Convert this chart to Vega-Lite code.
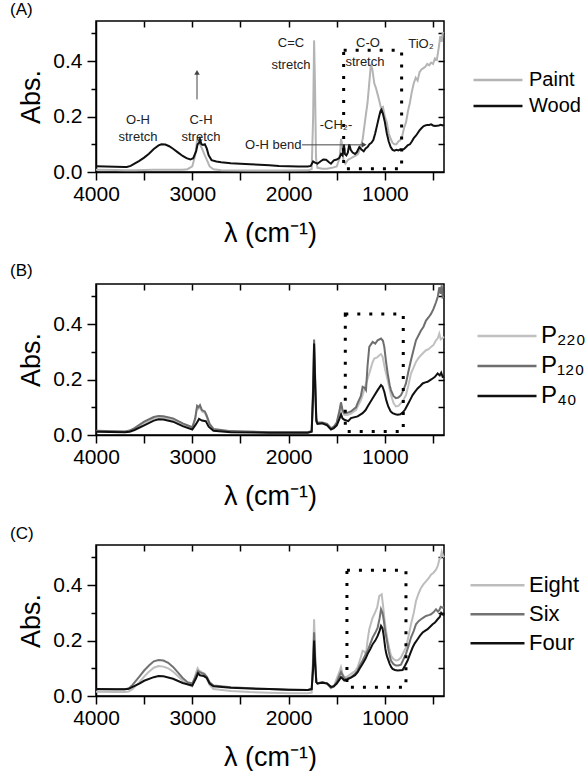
{
"$schema": "https://vega.github.io/schema/vega-lite/v6.json",
"padding": {"left": 9, "top": 0, "right": 0, "bottom": 0},
"resolve": {"scale": {"color": "independent"}, "legend": {"color": "independent"}},
"config": {
 "font": "Liberation Sans",
 "view": {"stroke": "#000", "strokeWidth": 1.5},
 "axis": {"domainColor": "#000", "tickColor": "#000", "labelColor": "#000", "titleColor": "#000", "grid": false, "labelFont": "Liberation Sans", "titleFont": "Liberation Sans", "labelFontSize": 21, "titleFontSize": 27, "titleFontWeight": "normal", "tickWidth": 1.5, "domainWidth": 1.5},
 "legend": {"labelFont": "Liberation Sans", "labelColor": "#000", "symbolType": "stroke", "symbolStrokeWidth": 2.5, "rowPadding": 0},
 "title": {"anchor": "start", "frame": "group", "fontSize": 17, "fontWeight": "normal", "font": "Liberation Sans", "color": "#000", "offset": 1, "dx": -86}
},
"datasets": {
 "a": [
  {"s":"Paint","x":4000,"y":0.008},{"s":"Paint","x":3800,"y":0.007},{"s":"Paint","x":3700,"y":0.006},{"s":"Paint","x":3600,"y":0.006},{"s":"Paint","x":3500,"y":0.007},{"s":"Paint","x":3400,"y":0.008},{"s":"Paint","x":3300,"y":0.008},{"s":"Paint","x":3200,"y":0.008},{"s":"Paint","x":3100,"y":0.008},{"s":"Paint","x":3050,"y":0.01},{"s":"Paint","x":3000,"y":0.02},{"s":"Paint","x":2970,"y":0.06},{"s":"Paint","x":2950,"y":0.115},{"s":"Paint","x":2935,"y":0.12},{"s":"Paint","x":2920,"y":0.1},{"s":"Paint","x":2900,"y":0.085},{"s":"Paint","x":2870,"y":0.06},{"s":"Paint","x":2850,"y":0.045},{"s":"Paint","x":2820,"y":0.02},{"s":"Paint","x":2780,"y":0.01},{"s":"Paint","x":2700,"y":0.006},{"s":"Paint","x":2400,"y":0.005},{"s":"Paint","x":2100,"y":0.005},{"s":"Paint","x":1800,"y":0.006},{"s":"Paint","x":1760,"y":0.01},{"s":"Paint","x":1745,"y":0.2},{"s":"Paint","x":1735,"y":0.475},{"s":"Paint","x":1725,"y":0.3},{"s":"Paint","x":1715,"y":0.05},{"s":"Paint","x":1700,"y":0.015},{"s":"Paint","x":1650,"y":0.012},{"s":"Paint","x":1600,"y":0.012},{"s":"Paint","x":1550,"y":0.015},{"s":"Paint","x":1500,"y":0.02},{"s":"Paint","x":1470,"y":0.05},{"s":"Paint","x":1455,"y":0.12},{"s":"Paint","x":1445,"y":0.1},{"s":"Paint","x":1430,"y":0.04},{"s":"Paint","x":1410,"y":0.03},{"s":"Paint","x":1380,"y":0.045},{"s":"Paint","x":1350,"y":0.05},{"s":"Paint","x":1300,"y":0.06},{"s":"Paint","x":1280,"y":0.065},{"s":"Paint","x":1250,"y":0.09},{"s":"Paint","x":1230,"y":0.12},{"s":"Paint","x":1200,"y":0.2},{"s":"Paint","x":1180,"y":0.25},{"s":"Paint","x":1160,"y":0.33},{"s":"Paint","x":1145,"y":0.39},{"s":"Paint","x":1130,"y":0.37},{"s":"Paint","x":1110,"y":0.32},{"s":"Paint","x":1090,"y":0.3},{"s":"Paint","x":1060,"y":0.26},{"s":"Paint","x":1040,"y":0.23},{"s":"Paint","x":1020,"y":0.235},{"s":"Paint","x":1000,"y":0.2},{"s":"Paint","x":980,"y":0.18},{"s":"Paint","x":960,"y":0.14},{"s":"Paint","x":940,"y":0.12},{"s":"Paint","x":920,"y":0.105},{"s":"Paint","x":900,"y":0.1},{"s":"Paint","x":880,"y":0.1},{"s":"Paint","x":860,"y":0.11},{"s":"Paint","x":840,"y":0.115},{"s":"Paint","x":820,"y":0.13},{"s":"Paint","x":800,"y":0.16},{"s":"Paint","x":780,"y":0.18},{"s":"Paint","x":760,"y":0.22},{"s":"Paint","x":740,"y":0.25},{"s":"Paint","x":720,"y":0.29},{"s":"Paint","x":700,"y":0.32},{"s":"Paint","x":680,"y":0.34},{"s":"Paint","x":660,"y":0.33},{"s":"Paint","x":640,"y":0.36},{"s":"Paint","x":620,"y":0.37},{"s":"Paint","x":600,"y":0.375},{"s":"Paint","x":580,"y":0.38},{"s":"Paint","x":560,"y":0.39},{"s":"Paint","x":540,"y":0.385},{"s":"Paint","x":520,"y":0.395},{"s":"Paint","x":500,"y":0.39},{"s":"Paint","x":480,"y":0.41},{"s":"Paint","x":460,"y":0.405},{"s":"Paint","x":440,"y":0.45},{"s":"Paint","x":425,"y":0.49},{"s":"Paint","x":410,"y":0.47},{"s":"Paint","x":400,"y":0.5},{"s":"Paint","x":390,"y":0.505},
  {"s":"Wood","x":4000,"y":0.021},{"s":"Wood","x":3900,"y":0.02},{"s":"Wood","x":3800,"y":0.019},{"s":"Wood","x":3700,"y":0.018},{"s":"Wood","x":3680,"y":0.018},{"s":"Wood","x":3640,"y":0.022},{"s":"Wood","x":3600,"y":0.03},{"s":"Wood","x":3550,"y":0.04},{"s":"Wood","x":3500,"y":0.052},{"s":"Wood","x":3450,"y":0.066},{"s":"Wood","x":3400,"y":0.083},{"s":"Wood","x":3350,"y":0.096},{"s":"Wood","x":3320,"y":0.1},{"s":"Wood","x":3280,"y":0.099},{"s":"Wood","x":3240,"y":0.093},{"s":"Wood","x":3200,"y":0.084},{"s":"Wood","x":3150,"y":0.071},{"s":"Wood","x":3100,"y":0.058},{"s":"Wood","x":3060,"y":0.05},{"s":"Wood","x":3020,"y":0.045},{"s":"Wood","x":2990,"y":0.05},{"s":"Wood","x":2960,"y":0.075},{"s":"Wood","x":2945,"y":0.1},{"s":"Wood","x":2930,"y":0.105},{"s":"Wood","x":2920,"y":0.118},{"s":"Wood","x":2905,"y":0.1},{"s":"Wood","x":2890,"y":0.098},{"s":"Wood","x":2870,"y":0.1},{"s":"Wood","x":2850,"y":0.085},{"s":"Wood","x":2830,"y":0.06},{"s":"Wood","x":2800,"y":0.043},{"s":"Wood","x":2750,"y":0.038},{"s":"Wood","x":2700,"y":0.035},{"s":"Wood","x":2600,"y":0.032},{"s":"Wood","x":2500,"y":0.03},{"s":"Wood","x":2400,"y":0.028},{"s":"Wood","x":2300,"y":0.026},{"s":"Wood","x":2200,"y":0.024},{"s":"Wood","x":2100,"y":0.022},{"s":"Wood","x":2000,"y":0.021},{"s":"Wood","x":1900,"y":0.02},{"s":"Wood","x":1800,"y":0.02},{"s":"Wood","x":1770,"y":0.022},{"s":"Wood","x":1745,"y":0.038},{"s":"Wood","x":1730,"y":0.035},{"s":"Wood","x":1700,"y":0.03},{"s":"Wood","x":1670,"y":0.038},{"s":"Wood","x":1640,"y":0.045},{"s":"Wood","x":1610,"y":0.044},{"s":"Wood","x":1580,"y":0.035},{"s":"Wood","x":1560,"y":0.03},{"s":"Wood","x":1530,"y":0.042},{"s":"Wood","x":1500,"y":0.045},{"s":"Wood","x":1475,"y":0.05},{"s":"Wood","x":1455,"y":0.065},{"s":"Wood","x":1440,"y":0.06},{"s":"Wood","x":1425,"y":0.1},{"s":"Wood","x":1415,"y":0.065},{"s":"Wood","x":1400,"y":0.06},{"s":"Wood","x":1385,"y":0.07},{"s":"Wood","x":1370,"y":0.1},{"s":"Wood","x":1355,"y":0.08},{"s":"Wood","x":1335,"y":0.07},{"s":"Wood","x":1310,"y":0.065},{"s":"Wood","x":1290,"y":0.072},{"s":"Wood","x":1265,"y":0.09},{"s":"Wood","x":1240,"y":0.08},{"s":"Wood","x":1220,"y":0.075},{"s":"Wood","x":1200,"y":0.085},{"s":"Wood","x":1180,"y":0.09},{"s":"Wood","x":1160,"y":0.1},{"s":"Wood","x":1140,"y":0.105},{"s":"Wood","x":1120,"y":0.115},{"s":"Wood","x":1100,"y":0.14},{"s":"Wood","x":1080,"y":0.17},{"s":"Wood","x":1060,"y":0.2},{"s":"Wood","x":1045,"y":0.22},{"s":"Wood","x":1035,"y":0.225},{"s":"Wood","x":1020,"y":0.21},{"s":"Wood","x":1000,"y":0.18},{"s":"Wood","x":980,"y":0.14},{"s":"Wood","x":960,"y":0.11},{"s":"Wood","x":940,"y":0.09},{"s":"Wood","x":920,"y":0.08},{"s":"Wood","x":900,"y":0.077},{"s":"Wood","x":880,"y":0.08},{"s":"Wood","x":860,"y":0.078},{"s":"Wood","x":840,"y":0.082},{"s":"Wood","x":820,"y":0.08},{"s":"Wood","x":800,"y":0.083},{"s":"Wood","x":780,"y":0.09},{"s":"Wood","x":760,"y":0.097},{"s":"Wood","x":740,"y":0.1},{"s":"Wood","x":720,"y":0.11},{"s":"Wood","x":700,"y":0.122},{"s":"Wood","x":680,"y":0.13},{"s":"Wood","x":660,"y":0.14},{"s":"Wood","x":640,"y":0.15},{"s":"Wood","x":620,"y":0.158},{"s":"Wood","x":600,"y":0.165},{"s":"Wood","x":580,"y":0.168},{"s":"Wood","x":560,"y":0.17},{"s":"Wood","x":540,"y":0.17},{"s":"Wood","x":520,"y":0.172},{"s":"Wood","x":500,"y":0.168},{"s":"Wood","x":480,"y":0.166},{"s":"Wood","x":460,"y":0.167},{"s":"Wood","x":440,"y":0.168},{"s":"Wood","x":420,"y":0.17},{"s":"Wood","x":400,"y":0.168},{"s":"Wood","x":386,"y":0.17}
 ],
 "b": [
  {"s":"P₂₂₀","x":4000,"y":0.014},{"s":"P₂₂₀","x":3700,"y":0.012},{"s":"P₂₂₀","x":3650,"y":0.015},{"s":"P₂₂₀","x":3600,"y":0.022},{"s":"P₂₂₀","x":3500,"y":0.043},{"s":"P₂₂₀","x":3400,"y":0.06},{"s":"P₂₂₀","x":3350,"y":0.064},{"s":"P₂₂₀","x":3300,"y":0.063},{"s":"P₂₂₀","x":3200,"y":0.055},{"s":"P₂₂₀","x":3100,"y":0.038},{"s":"P₂₂₀","x":3000,"y":0.025},{"s":"P₂₂₀","x":2970,"y":0.055},{"s":"P₂₂₀","x":2950,"y":0.1},{"s":"P₂₂₀","x":2935,"y":0.095},{"s":"P₂₂₀","x":2920,"y":0.102},{"s":"P₂₂₀","x":2900,"y":0.085},{"s":"P₂₂₀","x":2870,"y":0.08},{"s":"P₂₂₀","x":2850,"y":0.065},{"s":"P₂₂₀","x":2820,"y":0.035},{"s":"P₂₂₀","x":2780,"y":0.018},{"s":"P₂₂₀","x":2600,"y":0.012},{"s":"P₂₂₀","x":2200,"y":0.01},{"s":"P₂₂₀","x":1800,"y":0.01},{"s":"P₂₂₀","x":1760,"y":0.013},{"s":"P₂₂₀","x":1745,"y":0.13},{"s":"P₂₂₀","x":1735,"y":0.24},{"s":"P₂₂₀","x":1725,"y":0.16},{"s":"P₂₂₀","x":1712,"y":0.05},{"s":"P₂₂₀","x":1700,"y":0.042},{"s":"P₂₂₀","x":1650,"y":0.043},{"s":"P₂₂₀","x":1600,"y":0.038},{"s":"P₂₂₀","x":1560,"y":0.023},{"s":"P₂₂₀","x":1530,"y":0.028},{"s":"P₂₂₀","x":1500,"y":0.042},{"s":"P₂₂₀","x":1470,"y":0.085},{"s":"P₂₂₀","x":1456,"y":0.11},{"s":"P₂₂₀","x":1440,"y":0.085},{"s":"P₂₂₀","x":1421,"y":0.073},{"s":"P₂₂₀","x":1390,"y":0.072},{"s":"P₂₂₀","x":1352,"y":0.077},{"s":"P₂₂₀","x":1300,"y":0.09},{"s":"P₂₂₀","x":1283,"y":0.103},{"s":"P₂₂₀","x":1250,"y":0.125},{"s":"P₂₂₀","x":1231,"y":0.144},{"s":"P₂₂₀","x":1200,"y":0.18},{"s":"P₂₂₀","x":1162,"y":0.222},{"s":"P₂₂₀","x":1130,"y":0.26},{"s":"P₂₂₀","x":1110,"y":0.276},{"s":"P₂₂₀","x":1080,"y":0.28},{"s":"P₂₂₀","x":1058,"y":0.288},{"s":"P₂₂₀","x":1040,"y":0.292},{"s":"P₂₂₀","x":1023,"y":0.282},{"s":"P₂₂₀","x":1000,"y":0.24},{"s":"P₂₂₀","x":971,"y":0.198},{"s":"P₂₂₀","x":950,"y":0.165},{"s":"P₂₂₀","x":937,"y":0.144},{"s":"P₂₂₀","x":910,"y":0.115},{"s":"P₂₂₀","x":885,"y":0.103},{"s":"P₂₂₀","x":860,"y":0.105},{"s":"P₂₂₀","x":833,"y":0.115},{"s":"P₂₂₀","x":810,"y":0.125},{"s":"P₂₂₀","x":781,"y":0.144},{"s":"P₂₂₀","x":755,"y":0.18},{"s":"P₂₂₀","x":729,"y":0.222},{"s":"P₂₂₀","x":700,"y":0.245},{"s":"P₂₂₀","x":677,"y":0.264},{"s":"P₂₂₀","x":650,"y":0.278},{"s":"P₂₂₀","x":625,"y":0.288},{"s":"P₂₂₀","x":600,"y":0.297},{"s":"P₂₂₀","x":573,"y":0.306},{"s":"P₂₂₀","x":545,"y":0.31},{"s":"P₂₂₀","x":521,"y":0.318},{"s":"P₂₂₀","x":495,"y":0.325},{"s":"P₂₂₀","x":469,"y":0.342},{"s":"P₂₂₀","x":450,"y":0.35},{"s":"P₂₂₀","x":435,"y":0.366},{"s":"P₂₂₀","x":420,"y":0.345},{"s":"P₂₂₀","x":400,"y":0.35},{"s":"P₂₂₀","x":386,"y":0.355},
  {"s":"P₁₂₀","x":4000,"y":0.015},{"s":"P₁₂₀","x":3700,"y":0.013},{"s":"P₁₂₀","x":3650,"y":0.016},{"s":"P₁₂₀","x":3600,"y":0.025},{"s":"P₁₂₀","x":3500,"y":0.048},{"s":"P₁₂₀","x":3400,"y":0.065},{"s":"P₁₂₀","x":3350,"y":0.069},{"s":"P₁₂₀","x":3300,"y":0.068},{"s":"P₁₂₀","x":3200,"y":0.06},{"s":"P₁₂₀","x":3100,"y":0.042},{"s":"P₁₂₀","x":3000,"y":0.028},{"s":"P₁₂₀","x":2970,"y":0.06},{"s":"P₁₂₀","x":2950,"y":0.105},{"s":"P₁₂₀","x":2935,"y":0.1},{"s":"P₁₂₀","x":2920,"y":0.108},{"s":"P₁₂₀","x":2900,"y":0.09},{"s":"P₁₂₀","x":2870,"y":0.085},{"s":"P₁₂₀","x":2850,"y":0.07},{"s":"P₁₂₀","x":2820,"y":0.04},{"s":"P₁₂₀","x":2780,"y":0.022},{"s":"P₁₂₀","x":2600,"y":0.014},{"s":"P₁₂₀","x":2200,"y":0.01},{"s":"P₁₂₀","x":1800,"y":0.01},{"s":"P₁₂₀","x":1760,"y":0.015},{"s":"P₁₂₀","x":1745,"y":0.18},{"s":"P₁₂₀","x":1735,"y":0.345},{"s":"P₁₂₀","x":1725,"y":0.22},{"s":"P₁₂₀","x":1712,"y":0.06},{"s":"P₁₂₀","x":1700,"y":0.045},{"s":"P₁₂₀","x":1650,"y":0.045},{"s":"P₁₂₀","x":1600,"y":0.04},{"s":"P₁₂₀","x":1560,"y":0.025},{"s":"P₁₂₀","x":1530,"y":0.03},{"s":"P₁₂₀","x":1500,"y":0.045},{"s":"P₁₂₀","x":1470,"y":0.09},{"s":"P₁₂₀","x":1456,"y":0.118},{"s":"P₁₂₀","x":1440,"y":0.09},{"s":"P₁₂₀","x":1421,"y":0.079},{"s":"P₁₂₀","x":1390,"y":0.08},{"s":"P₁₂₀","x":1352,"y":0.085},{"s":"P₁₂₀","x":1300,"y":0.1},{"s":"P₁₂₀","x":1283,"y":0.115},{"s":"P₁₂₀","x":1250,"y":0.14},{"s":"P₁₂₀","x":1231,"y":0.174},{"s":"P₁₂₀","x":1210,"y":0.17},{"s":"P₁₂₀","x":1196,"y":0.162},{"s":"P₁₂₀","x":1180,"y":0.25},{"s":"P₁₂₀","x":1162,"y":0.318},{"s":"P₁₂₀","x":1127,"y":0.336},{"s":"P₁₂₀","x":1100,"y":0.33},{"s":"P₁₂₀","x":1075,"y":0.342},{"s":"P₁₂₀","x":1040,"y":0.348},{"s":"P₁₂₀","x":1020,"y":0.34},{"s":"P₁₂₀","x":1006,"y":0.318},{"s":"P₁₂₀","x":990,"y":0.27},{"s":"P₁₂₀","x":971,"y":0.222},{"s":"P₁₂₀","x":950,"y":0.18},{"s":"P₁₂₀","x":937,"y":0.162},{"s":"P₁₂₀","x":910,"y":0.14},{"s":"P₁₂₀","x":885,"y":0.133},{"s":"P₁₂₀","x":860,"y":0.135},{"s":"P₁₂₀","x":833,"y":0.144},{"s":"P₁₂₀","x":810,"y":0.16},{"s":"P₁₂₀","x":781,"y":0.186},{"s":"P₁₂₀","x":755,"y":0.23},{"s":"P₁₂₀","x":729,"y":0.27},{"s":"P₁₂₀","x":700,"y":0.31},{"s":"P₁₂₀","x":677,"y":0.342},{"s":"P₁₂₀","x":650,"y":0.36},{"s":"P₁₂₀","x":625,"y":0.377},{"s":"P₁₂₀","x":600,"y":0.39},{"s":"P₁₂₀","x":573,"y":0.413},{"s":"P₁₂₀","x":545,"y":0.425},{"s":"P₁₂₀","x":521,"y":0.437},{"s":"P₁₂₀","x":495,"y":0.455},{"s":"P₁₂₀","x":469,"y":0.479},{"s":"P₁₂₀","x":450,"y":0.5},{"s":"P₁₂₀","x":435,"y":0.533},{"s":"P₁₂₀","x":420,"y":0.51},{"s":"P₁₂₀","x":410,"y":0.54},{"s":"P₁₂₀","x":400,"y":0.497},{"s":"P₁₂₀","x":386,"y":0.5},
  {"s":"P₄₀","x":4000,"y":0.012},{"s":"P₄₀","x":3700,"y":0.01},{"s":"P₄₀","x":3650,"y":0.012},{"s":"P₄₀","x":3600,"y":0.018},{"s":"P₄₀","x":3500,"y":0.035},{"s":"P₄₀","x":3400,"y":0.052},{"s":"P₄₀","x":3350,"y":0.057},{"s":"P₄₀","x":3300,"y":0.056},{"s":"P₄₀","x":3200,"y":0.048},{"s":"P₄₀","x":3100,"y":0.032},{"s":"P₄₀","x":3000,"y":0.02},{"s":"P₄₀","x":2960,"y":0.04},{"s":"P₄₀","x":2930,"y":0.058},{"s":"P₄₀","x":2900,"y":0.052},{"s":"P₄₀","x":2860,"y":0.05},{"s":"P₄₀","x":2830,"y":0.03},{"s":"P₄₀","x":2780,"y":0.015},{"s":"P₄₀","x":2600,"y":0.01},{"s":"P₄₀","x":2200,"y":0.008},{"s":"P₄₀","x":1800,"y":0.008},{"s":"P₄₀","x":1760,"y":0.012},{"s":"P₄₀","x":1745,"y":0.15},{"s":"P₄₀","x":1735,"y":0.33},{"s":"P₄₀","x":1725,"y":0.2},{"s":"P₄₀","x":1712,"y":0.05},{"s":"P₄₀","x":1700,"y":0.04},{"s":"P₄₀","x":1650,"y":0.042},{"s":"P₄₀","x":1600,"y":0.035},{"s":"P₄₀","x":1560,"y":0.02},{"s":"P₄₀","x":1530,"y":0.025},{"s":"P₄₀","x":1500,"y":0.035},{"s":"P₄₀","x":1470,"y":0.06},{"s":"P₄₀","x":1455,"y":0.075},{"s":"P₄₀","x":1440,"y":0.06},{"s":"P₄₀","x":1421,"y":0.055},{"s":"P₄₀","x":1380,"y":0.05},{"s":"P₄₀","x":1352,"y":0.061},{"s":"P₄₀","x":1283,"y":0.067},{"s":"P₄₀","x":1231,"y":0.079},{"s":"P₄₀","x":1200,"y":0.09},{"s":"P₄₀","x":1179,"y":0.103},{"s":"P₄₀","x":1127,"y":0.133},{"s":"P₄₀","x":1075,"y":0.162},{"s":"P₄₀","x":1040,"y":0.18},{"s":"P₄₀","x":1025,"y":0.175},{"s":"P₄₀","x":1006,"y":0.156},{"s":"P₄₀","x":985,"y":0.125},{"s":"P₄₀","x":965,"y":0.103},{"s":"P₄₀","x":940,"y":0.085},{"s":"P₄₀","x":920,"y":0.079},{"s":"P₄₀","x":890,"y":0.075},{"s":"P₄₀","x":868,"y":0.073},{"s":"P₄₀","x":840,"y":0.075},{"s":"P₄₀","x":816,"y":0.081},{"s":"P₄₀","x":790,"y":0.092},{"s":"P₄₀","x":764,"y":0.109},{"s":"P₄₀","x":740,"y":0.125},{"s":"P₄₀","x":712,"y":0.144},{"s":"P₄₀","x":690,"y":0.155},{"s":"P₄₀","x":660,"y":0.168},{"s":"P₄₀","x":630,"y":0.178},{"s":"P₄₀","x":608,"y":0.186},{"s":"P₄₀","x":580,"y":0.19},{"s":"P₄₀","x":556,"y":0.192},{"s":"P₄₀","x":530,"y":0.198},{"s":"P₄₀","x":504,"y":0.204},{"s":"P₄₀","x":480,"y":0.21},{"s":"P₄₀","x":452,"y":0.222},{"s":"P₄₀","x":430,"y":0.215},{"s":"P₄₀","x":415,"y":0.225},{"s":"P₄₀","x":400,"y":0.21},{"s":"P₄₀","x":386,"y":0.212}
 ],
 "c": [
  {"s":"Eight","x":4000,"y":0.015},{"s":"Eight","x":3800,"y":0.014},{"s":"Eight","x":3700,"y":0.014},{"s":"Eight","x":3660,"y":0.016},{"s":"Eight","x":3620,"y":0.025},{"s":"Eight","x":3550,"y":0.05},{"s":"Eight","x":3500,"y":0.07},{"s":"Eight","x":3450,"y":0.088},{"s":"Eight","x":3400,"y":0.102},{"s":"Eight","x":3350,"y":0.108},{"s":"Eight","x":3300,"y":0.106},{"s":"Eight","x":3250,"y":0.1},{"s":"Eight","x":3200,"y":0.088},{"s":"Eight","x":3150,"y":0.072},{"s":"Eight","x":3100,"y":0.055},{"s":"Eight","x":3050,"y":0.042},{"s":"Eight","x":3000,"y":0.035},{"s":"Eight","x":2960,"y":0.085},{"s":"Eight","x":2945,"y":0.1},{"s":"Eight","x":2930,"y":0.092},{"s":"Eight","x":2900,"y":0.085},{"s":"Eight","x":2870,"y":0.08},{"s":"Eight","x":2850,"y":0.065},{"s":"Eight","x":2820,"y":0.04},{"s":"Eight","x":2780,"y":0.025},{"s":"Eight","x":2600,"y":0.018},{"s":"Eight","x":2400,"y":0.014},{"s":"Eight","x":2200,"y":0.012},{"s":"Eight","x":2000,"y":0.01},{"s":"Eight","x":1800,"y":0.01},{"s":"Eight","x":1760,"y":0.012},{"s":"Eight","x":1745,"y":0.15},{"s":"Eight","x":1735,"y":0.277},{"s":"Eight","x":1725,"y":0.17},{"s":"Eight","x":1712,"y":0.05},{"s":"Eight","x":1700,"y":0.045},{"s":"Eight","x":1650,"y":0.05},{"s":"Eight","x":1600,"y":0.045},{"s":"Eight","x":1560,"y":0.028},{"s":"Eight","x":1530,"y":0.035},{"s":"Eight","x":1508,"y":0.056},{"s":"Eight","x":1470,"y":0.09},{"s":"Eight","x":1456,"y":0.104},{"s":"Eight","x":1440,"y":0.08},{"s":"Eight","x":1421,"y":0.068},{"s":"Eight","x":1390,"y":0.07},{"s":"Eight","x":1352,"y":0.08},{"s":"Eight","x":1310,"y":0.09},{"s":"Eight","x":1283,"y":0.104},{"s":"Eight","x":1250,"y":0.14},{"s":"Eight","x":1231,"y":0.163},{"s":"Eight","x":1210,"y":0.16},{"s":"Eight","x":1196,"y":0.151},{"s":"Eight","x":1180,"y":0.2},{"s":"Eight","x":1162,"y":0.241},{"s":"Eight","x":1130,"y":0.28},{"s":"Eight","x":1110,"y":0.295},{"s":"Eight","x":1080,"y":0.32},{"s":"Eight","x":1058,"y":0.361},{"s":"Eight","x":1040,"y":0.365},{"s":"Eight","x":1033,"y":0.367},{"s":"Eight","x":1020,"y":0.33},{"s":"Eight","x":1006,"y":0.283},{"s":"Eight","x":990,"y":0.24},{"s":"Eight","x":971,"y":0.199},{"s":"Eight","x":950,"y":0.165},{"s":"Eight","x":937,"y":0.146},{"s":"Eight","x":910,"y":0.133},{"s":"Eight","x":885,"y":0.128},{"s":"Eight","x":860,"y":0.13},{"s":"Eight","x":833,"y":0.139},{"s":"Eight","x":810,"y":0.155},{"s":"Eight","x":781,"y":0.175},{"s":"Eight","x":755,"y":0.215},{"s":"Eight","x":729,"y":0.259},{"s":"Eight","x":700,"y":0.3},{"s":"Eight","x":677,"y":0.343},{"s":"Eight","x":650,"y":0.37},{"s":"Eight","x":625,"y":0.39},{"s":"Eight","x":600,"y":0.403},{"s":"Eight","x":573,"y":0.414},{"s":"Eight","x":545,"y":0.425},{"s":"Eight","x":521,"y":0.438},{"s":"Eight","x":495,"y":0.445},{"s":"Eight","x":469,"y":0.456},{"s":"Eight","x":450,"y":0.47},{"s":"Eight","x":435,"y":0.492},{"s":"Eight","x":420,"y":0.5},{"s":"Eight","x":410,"y":0.52},{"s":"Eight","x":400,"y":0.51},{"s":"Eight","x":386,"y":0.5},
  {"s":"Six","x":4000,"y":0.024},{"s":"Six","x":3800,"y":0.024},{"s":"Six","x":3700,"y":0.024},{"s":"Six","x":3660,"y":0.027},{"s":"Six","x":3620,"y":0.04},{"s":"Six","x":3550,"y":0.07},{"s":"Six","x":3500,"y":0.092},{"s":"Six","x":3450,"y":0.11},{"s":"Six","x":3400,"y":0.125},{"s":"Six","x":3350,"y":0.13},{"s":"Six","x":3300,"y":0.128},{"s":"Six","x":3250,"y":0.12},{"s":"Six","x":3200,"y":0.105},{"s":"Six","x":3150,"y":0.085},{"s":"Six","x":3100,"y":0.065},{"s":"Six","x":3050,"y":0.05},{"s":"Six","x":3000,"y":0.045},{"s":"Six","x":2960,"y":0.075},{"s":"Six","x":2940,"y":0.09},{"s":"Six","x":2920,"y":0.085},{"s":"Six","x":2880,"y":0.08},{"s":"Six","x":2850,"y":0.07},{"s":"Six","x":2820,"y":0.05},{"s":"Six","x":2780,"y":0.038},{"s":"Six","x":2600,"y":0.032},{"s":"Six","x":2400,"y":0.028},{"s":"Six","x":2200,"y":0.025},{"s":"Six","x":2000,"y":0.023},{"s":"Six","x":1800,"y":0.022},{"s":"Six","x":1760,"y":0.025},{"s":"Six","x":1745,"y":0.12},{"s":"Six","x":1735,"y":0.23},{"s":"Six","x":1725,"y":0.14},{"s":"Six","x":1712,"y":0.05},{"s":"Six","x":1700,"y":0.045},{"s":"Six","x":1650,"y":0.05},{"s":"Six","x":1600,"y":0.045},{"s":"Six","x":1560,"y":0.03},{"s":"Six","x":1530,"y":0.035},{"s":"Six","x":1500,"y":0.05},{"s":"Six","x":1470,"y":0.075},{"s":"Six","x":1456,"y":0.086},{"s":"Six","x":1421,"y":0.062},{"s":"Six","x":1390,"y":0.063},{"s":"Six","x":1352,"y":0.068},{"s":"Six","x":1310,"y":0.08},{"s":"Six","x":1283,"y":0.092},{"s":"Six","x":1260,"y":0.11},{"s":"Six","x":1231,"y":0.128},{"s":"Six","x":1200,"y":0.15},{"s":"Six","x":1179,"y":0.163},{"s":"Six","x":1150,"y":0.19},{"s":"Six","x":1127,"y":0.211},{"s":"Six","x":1100,"y":0.228},{"s":"Six","x":1075,"y":0.247},{"s":"Six","x":1055,"y":0.28},{"s":"Six","x":1040,"y":0.313},{"s":"Six","x":1025,"y":0.3},{"s":"Six","x":1013,"y":0.277},{"s":"Six","x":995,"y":0.23},{"s":"Six","x":978,"y":0.199},{"s":"Six","x":960,"y":0.16},{"s":"Six","x":937,"y":0.128},{"s":"Six","x":910,"y":0.115},{"s":"Six","x":885,"y":0.11},{"s":"Six","x":860,"y":0.11},{"s":"Six","x":833,"y":0.113},{"s":"Six","x":810,"y":0.13},{"s":"Six","x":781,"y":0.152},{"s":"Six","x":755,"y":0.18},{"s":"Six","x":729,"y":0.211},{"s":"Six","x":700,"y":0.235},{"s":"Six","x":677,"y":0.259},{"s":"Six","x":650,"y":0.27},{"s":"Six","x":625,"y":0.277},{"s":"Six","x":600,"y":0.283},{"s":"Six","x":573,"y":0.289},{"s":"Six","x":545,"y":0.292},{"s":"Six","x":521,"y":0.295},{"s":"Six","x":495,"y":0.302},{"s":"Six","x":469,"y":0.313},{"s":"Six","x":450,"y":0.305},{"s":"Six","x":435,"y":0.31},{"s":"Six","x":420,"y":0.322},{"s":"Six","x":400,"y":0.319},{"s":"Six","x":386,"y":0.32},
  {"s":"Four","x":4000,"y":0.025},{"s":"Four","x":3800,"y":0.024},{"s":"Four","x":3700,"y":0.024},{"s":"Four","x":3660,"y":0.026},{"s":"Four","x":3620,"y":0.033},{"s":"Four","x":3550,"y":0.045},{"s":"Four","x":3500,"y":0.055},{"s":"Four","x":3400,"y":0.068},{"s":"Four","x":3350,"y":0.072},{"s":"Four","x":3300,"y":0.071},{"s":"Four","x":3200,"y":0.062},{"s":"Four","x":3100,"y":0.047},{"s":"Four","x":3000,"y":0.038},{"s":"Four","x":2960,"y":0.065},{"s":"Four","x":2940,"y":0.082},{"s":"Four","x":2920,"y":0.075},{"s":"Four","x":2880,"y":0.072},{"s":"Four","x":2850,"y":0.065},{"s":"Four","x":2820,"y":0.045},{"s":"Four","x":2780,"y":0.035},{"s":"Four","x":2600,"y":0.03},{"s":"Four","x":2400,"y":0.027},{"s":"Four","x":2200,"y":0.025},{"s":"Four","x":2000,"y":0.023},{"s":"Four","x":1800,"y":0.022},{"s":"Four","x":1760,"y":0.025},{"s":"Four","x":1745,"y":0.1},{"s":"Four","x":1735,"y":0.2},{"s":"Four","x":1725,"y":0.12},{"s":"Four","x":1712,"y":0.05},{"s":"Four","x":1700,"y":0.045},{"s":"Four","x":1650,"y":0.048},{"s":"Four","x":1600,"y":0.045},{"s":"Four","x":1560,"y":0.033},{"s":"Four","x":1530,"y":0.035},{"s":"Four","x":1500,"y":0.045},{"s":"Four","x":1470,"y":0.06},{"s":"Four","x":1456,"y":0.068},{"s":"Four","x":1421,"y":0.056},{"s":"Four","x":1390,"y":0.06},{"s":"Four","x":1352,"y":0.066},{"s":"Four","x":1310,"y":0.075},{"s":"Four","x":1283,"y":0.086},{"s":"Four","x":1260,"y":0.1},{"s":"Four","x":1231,"y":0.116},{"s":"Four","x":1200,"y":0.135},{"s":"Four","x":1179,"y":0.152},{"s":"Four","x":1150,"y":0.17},{"s":"Four","x":1127,"y":0.187},{"s":"Four","x":1100,"y":0.2},{"s":"Four","x":1075,"y":0.217},{"s":"Four","x":1055,"y":0.235},{"s":"Four","x":1040,"y":0.253},{"s":"Four","x":1025,"y":0.245},{"s":"Four","x":1013,"y":0.22},{"s":"Four","x":995,"y":0.17},{"s":"Four","x":985,"y":0.152},{"s":"Four","x":975,"y":0.14},{"s":"Four","x":950,"y":0.116},{"s":"Four","x":935,"y":0.105},{"s":"Four","x":920,"y":0.098},{"s":"Four","x":895,"y":0.094},{"s":"Four","x":868,"y":0.092},{"s":"Four","x":840,"y":0.093},{"s":"Four","x":816,"y":0.094},{"s":"Four","x":790,"y":0.11},{"s":"Four","x":764,"y":0.128},{"s":"Four","x":740,"y":0.15},{"s":"Four","x":712,"y":0.175},{"s":"Four","x":690,"y":0.19},{"s":"Four","x":660,"y":0.205},{"s":"Four","x":635,"y":0.218},{"s":"Four","x":608,"y":0.229},{"s":"Four","x":580,"y":0.236},{"s":"Four","x":556,"y":0.241},{"s":"Four","x":530,"y":0.25},{"s":"Four","x":504,"y":0.259},{"s":"Four","x":480,"y":0.265},{"s":"Four","x":452,"y":0.277},{"s":"Four","x":430,"y":0.285},{"s":"Four","x":415,"y":0.3},{"s":"Four","x":400,"y":0.295},{"s":"Four","x":386,"y":0.29}
 ],
 "boxes": [
  {"p":"A","x":1428,"x2":826,"y":0.012,"y2":0.439},
  {"p":"B","x":1411,"x2":809,"y":0.013,"y2":0.437},
  {"p":"C","x":1394,"x2":781,"y":0.032,"y2":0.454}
 ],
 "notes": [
  {"t":"O-H","x":3564,"y":0.188},{"t":"stretch","x":3564,"y":0.127},
  {"t":"C-H","x":2910,"y":0.188},{"t":"stretch","x":2910,"y":0.127},
  {"t":"C=C","x":1975,"y":0.467},{"t":"stretch","x":1975,"y":0.387},
  {"t":"C-O","x":1176,"y":0.467},{"t":"stretch","x":1207,"y":0.398},
  {"t":"TiO₂","x":625,"y":0.463},{"t":"-CH₂-","x":1508,"y":0.17}
 ],
 "arrows": [
  {"x":2951,"y":0.262,"x2":2951,"y2":0.355},
  {"x":1861,"y":0.098,"x2":1225,"y2":0.098}
 ],
 "heads": [
  {"x":2951,"y":0.36,"shp":"triangle-up"},
  {"x":1215,"y":0.098,"shp":"triangle-right"}
 ]
},
"spacing": 14,
"vconcat": [
 {
  "title": {"text": "(A)"},
  "width": 348, "height": 151,
  "resolve": {"axis": {"x": "independent", "y": "independent"}},
  "layer": [
   {
    "data": {"name": "a"},
    "mark": {"type": "line", "strokeWidth": 2},
    "encoding": {
     "x": {"field": "x", "type": "quantitative", "scale": {"domain": [4000, 386], "nice": false, "zero": false},
       "axis": {"orient": "bottom", "values": [4000,3500,3000,2500,2000,1500,1000,500], "format": "d", "labelExpr": "datum.value % 1000 === 0 ? datum.label : ''", "tickSize": 8, "labelPadding": 3, "labelFlush": false, "labelOverlap": false, "title": "λ (cm⁻¹)", "titlePadding": 16}},
     "y": {"field": "y", "type": "quantitative", "scale": {"domain": [0, 0.545], "nice": false},
       "axis": {"orient": "left", "values": [0, 0.2, 0.4], "format": ".1f", "tickSize": 9, "labelPadding": 5, "title": "Abs.", "titlePadding": 7}},
     "color": {"field": "s", "type": "nominal", "scale": {"domain": ["Paint", "Wood"], "range": ["#b4b4b4", "#101010"]},
       "legend": {"orient": "none", "legendX": 376, "legendY": 46, "title": null, "symbolSize": 2401, "clipHeight": 26, "labelFontSize": 20, "rowPadding": 0, "labelOffset": 5}}
    }
   },
   {
    "data": {"name": "boxes"},
    "transform": [{"filter": "datum.p === 'A'"}],
    "mark": {"type": "rect", "filled": false, "stroke": "#000", "strokeWidth": 3, "strokeDash": [3, 9]},
    "encoding": {
     "x": {"field": "x", "type": "quantitative", "axis": {"orient": "top", "values": [3500,3000,2500,2000,1500,1000,500], "labels": false, "tickSize": -6, "domain": false, "title": null}},
     "x2": {"field": "x2"},
     "y": {"field": "y", "type": "quantitative", "axis": {"orient": "right", "values": [0.1,0.2,0.3,0.4,0.5], "labels": false, "tickSize": -6, "domain": false, "title": null}},
     "y2": {"field": "y2"}
    }
   },
   {
    "data": {"name": "boxes"},
    "transform": [{"filter": "datum.p === 'A'"}],
    "mark": {"type": "point", "opacity": 0},
    "encoding": {
     "x": {"field": "x", "type": "quantitative", "axis": null},
     "y": {"field": "y", "type": "quantitative", "axis": {"orient": "left", "values": [0.1,0.3,0.5], "labels": false, "tickSize": 5, "domain": false, "title": null}}
    }
   },
   {
    "data": {"name": "notes"},
    "mark": {"type": "text", "fontSize": 13, "color": "#222", "baseline": "middle", "align": "center"},
    "encoding": {
     "x": {"field": "x", "type": "quantitative", "axis": null},
     "y": {"field": "y", "type": "quantitative", "axis": null},
     "text": {"field": "t"}
    }
   },
   {
    "data": {"values": [{"t": "O-H bend", "x": 1866, "y": 0.098}]},
    "mark": {"type": "text", "fontSize": 13, "color": "#222", "baseline": "middle", "align": "right"},
    "encoding": {
     "x": {"field": "x", "type": "quantitative", "axis": null},
     "y": {"field": "y", "type": "quantitative", "axis": null},
     "text": {"field": "t"}
    }
   },
   {
    "data": {"name": "arrows"},
    "mark": {"type": "rule", "color": "#444", "strokeWidth": 1},
    "encoding": {
     "x": {"field": "x", "type": "quantitative", "axis": null},
     "y": {"field": "y", "type": "quantitative", "axis": null},
     "x2": {"field": "x2"},
     "y2": {"field": "y2"}
    }
   },
   {
    "data": {"name": "heads"},
    "mark": {"type": "point", "filled": true, "color": "#444", "size": 30, "opacity": 1},
    "encoding": {
     "x": {"field": "x", "type": "quantitative", "axis": null},
     "y": {"field": "y", "type": "quantitative", "axis": null},
     "shape": {"field": "shp", "type": "nominal", "scale": null}
    }
   }
  ]
 },
 {
  "title": {"text": "(B)"},
  "width": 348, "height": 151,
  "resolve": {"axis": {"x": "independent", "y": "independent"}},
  "layer": [
   {
    "data": {"name": "b"},
    "mark": {"type": "line", "strokeWidth": 2},
    "encoding": {
     "x": {"field": "x", "type": "quantitative", "scale": {"domain": [4000, 386], "nice": false, "zero": false},
       "axis": {"orient": "bottom", "values": [4000,3500,3000,2500,2000,1500,1000,500], "format": "d", "labelExpr": "datum.value % 1000 === 0 ? datum.label : ''", "tickSize": 8, "labelPadding": 3, "labelFlush": false, "labelOverlap": false, "title": "λ (cm⁻¹)", "titlePadding": 16}},
     "y": {"field": "y", "type": "quantitative", "scale": {"domain": [0, 0.545], "nice": false},
       "axis": {"orient": "left", "values": [0, 0.2, 0.4], "format": ".1f", "tickSize": 9, "labelPadding": 5, "title": "Abs.", "titlePadding": 7}},
     "color": {"field": "s", "type": "nominal", "scale": {"domain": ["P₂₂₀", "P₁₂₀", "P₄₀"], "range": ["#c0c0c0", "#6e6e6e", "#101010"]},
       "legend": {"orient": "none", "legendX": 380, "legendY": 37, "title": null, "symbolSize": 3481, "clipHeight": 30, "labelFontSize": 24, "rowPadding": 0, "labelOffset": 3}}
    }
   },
   {
    "data": {"name": "boxes"},
    "transform": [{"filter": "datum.p === 'B'"}],
    "mark": {"type": "rect", "filled": false, "stroke": "#000", "strokeWidth": 3, "strokeDash": [3, 9]},
    "encoding": {
     "x": {"field": "x", "type": "quantitative", "axis": {"orient": "top", "values": [3500,3000,2500,2000,1500,1000,500], "labels": false, "tickSize": -6, "domain": false, "title": null}},
     "x2": {"field": "x2"},
     "y": {"field": "y", "type": "quantitative", "axis": {"orient": "right", "values": [0.1,0.2,0.3,0.4,0.5], "labels": false, "tickSize": -6, "domain": false, "title": null}},
     "y2": {"field": "y2"}
    }
   },
   {
    "data": {"name": "boxes"},
    "transform": [{"filter": "datum.p === 'B'"}],
    "mark": {"type": "point", "opacity": 0},
    "encoding": {
     "x": {"field": "x", "type": "quantitative", "axis": null},
     "y": {"field": "y", "type": "quantitative", "axis": {"orient": "left", "values": [0.1,0.3,0.5], "labels": false, "tickSize": 5, "domain": false, "title": null}}
    }
   }
  ]
 },
 {
  "title": {"text": "(C)"},
  "width": 348, "height": 151,
  "resolve": {"axis": {"x": "independent", "y": "independent"}},
  "layer": [
   {
    "data": {"name": "c"},
    "mark": {"type": "line", "strokeWidth": 2},
    "encoding": {
     "x": {"field": "x", "type": "quantitative", "scale": {"domain": [4000, 386], "nice": false, "zero": false},
       "axis": {"orient": "bottom", "values": [4000,3500,3000,2500,2000,1500,1000,500], "format": "d", "labelExpr": "datum.value % 1000 === 0 ? datum.label : ''", "tickSize": 8, "labelPadding": 3, "labelFlush": false, "labelOverlap": false, "title": "λ (cm⁻¹)", "titlePadding": 16}},
     "y": {"field": "y", "type": "quantitative", "scale": {"domain": [0, 0.545], "nice": false},
       "axis": {"orient": "left", "values": [0, 0.2, 0.4], "format": ".1f", "tickSize": 9, "labelPadding": 5, "title": "Abs.", "titlePadding": 7}},
     "color": {"field": "s", "type": "nominal", "scale": {"domain": ["Eight", "Six", "Four"], "range": ["#bdbdbd", "#727272", "#101010"]},
       "legend": {"orient": "none", "legendX": 373, "legendY": 26, "title": null, "symbolSize": 2916, "clipHeight": 28.5, "labelFontSize": 22, "rowPadding": 0, "labelOffset": 3}}
    }
   },
   {
    "data": {"name": "boxes"},
    "transform": [{"filter": "datum.p === 'C'"}],
    "mark": {"type": "rect", "filled": false, "stroke": "#000", "strokeWidth": 3, "strokeDash": [3, 9]},
    "encoding": {
     "x": {"field": "x", "type": "quantitative", "axis": {"orient": "top", "values": [3500,3000,2500,2000,1500,1000,500], "labels": false, "tickSize": -6, "domain": false, "title": null}},
     "x2": {"field": "x2"},
     "y": {"field": "y", "type": "quantitative", "axis": {"orient": "right", "values": [0.1,0.2,0.3,0.4,0.5], "labels": false, "tickSize": -6, "domain": false, "title": null}},
     "y2": {"field": "y2"}
    }
   },
   {
    "data": {"name": "boxes"},
    "transform": [{"filter": "datum.p === 'C'"}],
    "mark": {"type": "point", "opacity": 0},
    "encoding": {
     "x": {"field": "x", "type": "quantitative", "axis": null},
     "y": {"field": "y", "type": "quantitative", "axis": {"orient": "left", "values": [0.1,0.3,0.5], "labels": false, "tickSize": 5, "domain": false, "title": null}}
    }
   }
  ]
 }
]
}
